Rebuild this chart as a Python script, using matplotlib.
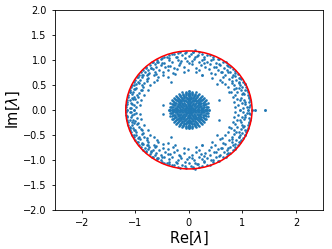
import numpy as np
import matplotlib
matplotlib.use("Agg")
import matplotlib.pyplot as plt
from matplotlib.patches import Circle

# eigenvalues of a real matrix -> conjugate pairs, so only the upper half (Im >= 0) is listed
outer_band = [
    (-0.21, 1.14), (-0.05, 1.16), (0.08, 1.15), (0.19, 1.15), (0.12, 1.19),
    (-0.38, 1.09), (-0.27, 1.11), (-0.12, 1.10), (0.03, 1.12), (0.17, 1.09), (0.33, 1.10),
    (-0.50, 1.04), (-0.41, 1.06), (-0.25, 1.05), (-0.08, 1.04), (0.12, 1.06), (0.28, 1.05), (0.45, 1.05),
    (-0.60, 0.99), (-0.52, 1.01), (-0.38, 0.99), (-0.20, 1.00), (-0.04, 0.98), (0.09, 1.01),
    (0.24, 0.99), (0.41, 1.00), (0.56, 1.02),
    (-0.68, 0.95), (-0.58, 0.96), (-0.47, 0.94), (-0.31, 0.95), (-0.14, 0.97), (0.00, 0.94),
    (0.18, 0.95), (0.33, 0.96), (0.50, 0.94), (0.64, 0.95),
    (-0.73, 0.89), (-0.63, 0.91), (-0.52, 0.90), (-0.36, 0.88), (-0.19, 0.90), (0.05, 0.91),
    (0.22, 0.89), (0.40, 0.91), (0.58, 0.90), (0.71, 0.89),
    (-0.80, 0.85), (-0.70, 0.84), (-0.61, 0.86), (-0.45, 0.85), (-0.28, 0.84), (-0.09, 0.86),
    (0.13, 0.84), (0.31, 0.86), (0.50, 0.85), (0.66, 0.84), (0.77, 0.86),
    (-0.85, 0.80), (-0.77, 0.79), (-0.68, 0.81), (-0.56, 0.80), (-0.40, 0.79), (-0.22, 0.81),
    (-0.02, 0.79), (0.19, 0.80), (0.37, 0.81), (0.55, 0.79), (0.71, 0.80), (0.83, 0.81),
    (-0.89, 0.75), (-0.82, 0.76), (-0.74, 0.74), (-0.63, 0.75), (-0.49, 0.76), (-0.30, 0.74),
    (-0.10, 0.76), (0.14, 0.75), (0.42, 0.74), (0.60, 0.76), (0.76, 0.75), (0.87, 0.74),
    (-0.93, 0.70), (-0.86, 0.69), (-0.77, 0.71), (-0.65, 0.70), (-0.48, 0.69), (-0.26, 0.71),
    (0.25, 0.70), (0.49, 0.71), (0.68, 0.69), (0.82, 0.70), (0.91, 0.71),
    (-0.96, 0.65), (-0.88, 0.66), (-0.76, 0.64), (-0.58, 0.65), (-0.40, 0.66),
    (0.43, 0.64), (0.63, 0.66), (0.80, 0.65), (0.93, 0.64),
    (-1.00, 0.60), (-0.91, 0.59), (-0.79, 0.61), (-0.60, 0.60),
    (0.58, 0.59), (0.74, 0.61), (0.88, 0.60), (0.98, 0.61),
    (-1.03, 0.55), (-0.95, 0.56), (-0.84, 0.54), (-0.66, 0.55),
    (0.62, 0.56), (0.80, 0.54), (0.93, 0.55), (1.02, 0.56),
    (-1.06, 0.50), (-0.98, 0.51), (-0.88, 0.49), (-0.72, 0.50),
    (0.68, 0.51), (0.84, 0.49), (0.96, 0.50), (1.05, 0.51),
    (-1.08, 0.45), (-0.99, 0.44), (-0.86, 0.46), (0.73, 0.45), (0.88, 0.44), (0.99, 0.46), (1.07, 0.45),
    (-1.10, 0.40), (-1.01, 0.41), (-0.90, 0.39), (-0.76, 0.40), (0.85, 0.41), (0.97, 0.39), (1.08, 0.40),
    (-1.11, 0.35), (-1.04, 0.36), (-0.93, 0.34), (0.78, 0.36), (0.90, 0.35), (1.01, 0.34), (1.10, 0.36),
    (-1.13, 0.30), (-1.06, 0.31), (-0.97, 0.29), (-0.84, 0.30), (0.86, 0.29), (0.99, 0.31), (1.11, 0.30),
    (-1.14, 0.25), (-1.07, 0.24), (-0.95, 0.26), (0.82, 0.25), (0.98, 0.24), (1.12, 0.26),
    (-1.15, 0.20), (-1.05, 0.21), (-0.90, 0.19), (0.89, 0.21), (1.03, 0.19), (1.14, 0.20),
    (-1.16, 0.15), (-1.09, 0.14), (-0.97, 0.16), (0.84, 0.15), (1.00, 0.14), (1.13, 0.16),
    (-1.17, 0.10), (-1.06, 0.11), (-0.92, 0.09), (0.91, 0.10), (1.05, 0.11), (1.15, 0.09),
    (-1.17, 0.05), (-1.11, 0.04), (-0.99, 0.06), (0.87, 0.05), (1.02, 0.04), (1.13, 0.06),
]

# extra points hugging the rim, where the band is densest
rim_points = [
    (1.09, 0.06), (1.05, 0.15), (1.13, 0.24), (1.03, 0.32), (1.05, 0.40), (1.04, 0.51),
    (0.93, 0.54), (0.95, 0.64), (0.87, 0.68), (0.86, 0.78), (0.73, 0.76), (0.73, 0.87),
    (0.69, 0.95), (0.57, 0.92), (0.54, 1.02), (0.45, 1.01), (0.40, 1.10), (0.29, 1.02),
    (0.24, 1.12), (0.15, 1.08), (0.08, 1.16), (0.00, 1.07), (-0.08, 1.13), (-0.16, 1.16),
    (-0.22, 1.06), (-0.32, 1.11), (-0.38, 1.04), (-0.47, 1.06), (-0.50, 0.94), (-0.60, 0.96),
    (-0.69, 0.95), (-0.70, 0.83), (-0.80, 0.83), (-0.78, 0.70), (-0.88, 0.69), (-0.97, 0.65),
    (-0.94, 0.54), (-1.02, 0.50), (-1.02, 0.41), (-1.10, 0.36), (-1.03, 0.26), (-1.11, 0.20),
    (-1.16, 0.12), (-1.09, 0.04),
    (0.95, 0.20), (0.93, 0.44), (0.80, 0.58), (0.62, 0.76), (0.47, 0.85), (0.28, 0.93),
    (0.06, 0.97), (-0.17, 0.93), (-0.40, 0.88), (-0.62, 0.72), (-0.79, 0.57), (-0.88, 0.40),
    (-1.00, 0.22), (-1.02, 0.09),
]

gap_points = [
    (-0.49, 0.09), (-0.33, 0.55), (0.57, 0.20), (0.53, 0.51), (0.75, 0.35), (0.25, 0.70),
]

real_axis = [
    (-1.15, 0.0), (-1.02, 0.0), (0.95, 0.0), (1.10, 0.0), (1.18, 0.0), (1.23, 0.0), (1.42, 0.0),
]

# central cluster: rings of eigenvalues, x values for Im >= 0 (right half), mirrored in x below
inner_right = [
    # r ~ 0.37
    (0.37, 0.0), (0.36, 0.06), (0.35, 0.13), (0.32, 0.19), (0.28, 0.24), (0.24, 0.28),
    (0.19, 0.32), (0.13, 0.35), (0.06, 0.36), (0.0, 0.37),
    # r ~ 0.345
    (0.345, 0.0), (0.340, 0.060), (0.324, 0.118), (0.299, 0.173), (0.264, 0.222), (0.222, 0.264),
    (0.173, 0.299), (0.118, 0.324), (0.060, 0.340), (0.0, 0.345),
    # r ~ 0.32
    (0.32, 0.0), (0.315, 0.056), (0.30, 0.11), (0.277, 0.16), (0.245, 0.206), (0.206, 0.245),
    (0.16, 0.277), (0.11, 0.30), (0.056, 0.315), (0.0, 0.32),
    # r ~ 0.295
    (0.295, 0.0), (0.291, 0.051), (0.277, 0.101), (0.255, 0.148), (0.226, 0.190), (0.190, 0.226),
    (0.148, 0.255), (0.101, 0.277), (0.051, 0.291), (0.0, 0.295),
    # r ~ 0.27
    (0.27, 0.0), (0.266, 0.047), (0.254, 0.092), (0.234, 0.135), (0.207, 0.174), (0.174, 0.207),
    (0.135, 0.234), (0.092, 0.254), (0.047, 0.266), (0.0, 0.27),
    # r ~ 0.245
    (0.245, 0.0), (0.241, 0.043), (0.230, 0.084), (0.212, 0.123), (0.188, 0.157), (0.157, 0.188),
    (0.123, 0.212), (0.084, 0.230), (0.043, 0.241), (0.0, 0.245),
    # r ~ 0.22
    (0.22, 0.0), (0.217, 0.038), (0.207, 0.075), (0.191, 0.11), (0.169, 0.141), (0.141, 0.169),
    (0.11, 0.191), (0.075, 0.207), (0.038, 0.217), (0.0, 0.22),
    # solid core
    (0.195, 0.0), (0.188, 0.050), (0.169, 0.098), (0.138, 0.138), (0.098, 0.169), (0.050, 0.188), (0.0, 0.195),
    (0.17, 0.0), (0.164, 0.044), (0.147, 0.085), (0.12, 0.12), (0.085, 0.147), (0.044, 0.164), (0.0, 0.17),
    (0.145, 0.0), (0.136, 0.050), (0.111, 0.093), (0.073, 0.126), (0.025, 0.143),
    (0.12, 0.0), (0.113, 0.041), (0.092, 0.077), (0.06, 0.104), (0.021, 0.118),
    (0.095, 0.0), (0.082, 0.048), (0.048, 0.082), (0.0, 0.095),
    (0.07, 0.0), (0.061, 0.035), (0.035, 0.061), (0.0, 0.07),
    (0.045, 0.0), (0.032, 0.032), (0.0, 0.045),
    (0.02, 0.0), (0.0, 0.02), (0.0, 0.0),
]

circle_radius = 1.18

inner = np.array(inner_right)
inner_upper = np.vstack([inner, inner * [-1, 1]])
upper = np.vstack([np.array(outer_band + rim_points + gap_points + real_axis), inner_upper])
re = np.concatenate([upper[:, 0], upper[:, 0]])
im = np.concatenate([upper[:, 1], -upper[:, 1]])

fig = plt.figure(figsize=(3.32, 2.49), dpi=100)
ax = fig.add_axes([0.166, 0.157, 0.806, 0.803])

ax.scatter(re, im, s=3.5, color="#1f77b4", linewidths=0)
ax.add_patch(Circle((0, 0), circle_radius, fill=False, color="red", lw=1.1))

ax.set_xlim(-2.5, 2.5)
ax.set_ylim(-2, 2)
ax.set_xticks([-2, -1, 0, 1, 2])
ax.set_yticks(np.arange(-2, 2.01, 0.5))
ax.tick_params(labelsize=7, length=2.5, width=0.6)
for sp in ax.spines.values():
    sp.set_linewidth(0.6)
ax.set_xlabel(r"Re[$\lambda$]", fontsize=10.5, labelpad=1)
ax.set_ylabel(r"Im[$\lambda$]", fontsize=10.5, labelpad=1)

fig.savefig("out.png", dpi=100)
